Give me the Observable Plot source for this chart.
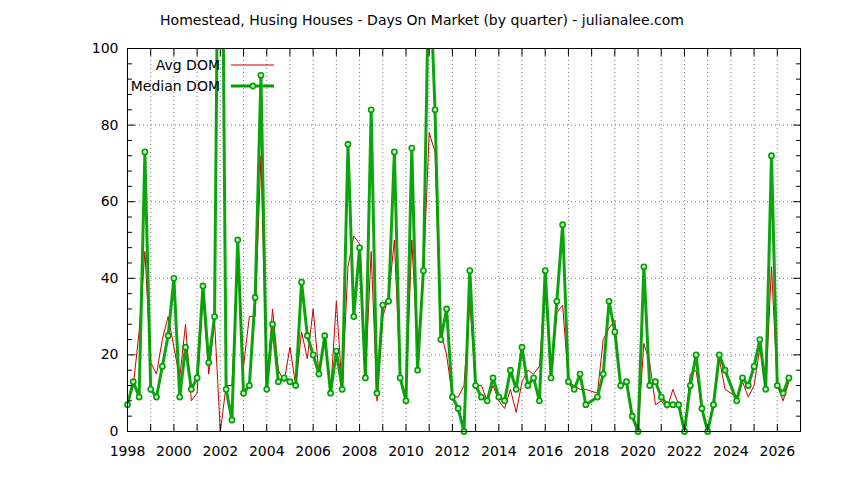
<!DOCTYPE html>
<html><head><meta charset="utf-8">
<script src="https://cdn.jsdelivr.net/npm/d3@7"></script>
<script src="https://cdn.jsdelivr.net/npm/@observablehq/plot@0.6"></script>
<style>
body{margin:0;background:#fff;}
#wrap{position:relative;width:844px;height:480px;font-family:"DejaVu Sans",sans-serif;background:#fff;}
#title{height:38px;line-height:38px;padding-top:1px;box-sizing:border-box;text-align:center;font-size:14px;color:#000;white-space:nowrap;}
#legend{position:absolute;left:0;top:0;pointer-events:none;}
</style></head><body>
<div id="wrap"><div id="title">Homestead, Husing Houses - Days On Market (by quarter) - julianalee.com</div><div id="chart"></div><svg id="legend" width="844" height="480"></svg></div>
<script>
// Quarter start (decimal year); 2018 Q1 and 2024 Q1 absent in the source
const quarters = [
1998.00,1998.25,1998.50,1998.75,1999.00,1999.25,1999.50,1999.75,
2000.00,2000.25,2000.50,2000.75,2001.00,2001.25,2001.50,2001.75,
2002.00,2002.25,2002.50,2002.75,2003.00,2003.25,2003.50,2003.75,
2004.00,2004.25,2004.50,2004.75,2005.00,2005.25,2005.50,2005.75,
2006.00,2006.25,2006.50,2006.75,2007.00,2007.25,2007.50,2007.75,
2008.00,2008.25,2008.50,2008.75,2009.00,2009.25,2009.50,2009.75,
2010.00,2010.25,2010.50,2010.75,2011.00,2011.25,2011.50,2011.75,
2012.00,2012.25,2012.50,2012.75,2013.00,2013.25,2013.50,2013.75,
2014.00,2014.25,2014.50,2014.75,2015.00,2015.25,2015.50,2015.75,
2016.00,2016.25,2016.50,2016.75,2017.00,2017.25,2017.50,2017.75,
2018.25,2018.50,2018.75,2019.00,2019.25,2019.50,2019.75,
2020.00,2020.25,2020.50,2020.75,2021.00,2021.25,2021.50,2021.75,
2022.00,2022.25,2022.50,2022.75,2023.00,2023.25,2023.50,2023.75,
2024.25,2024.50,2024.75,2025.00,2025.25,2025.50,2025.75,
2026.00,2026.25,2026.50
];
const avgDom = [
7,12,26,47,18,15,24,30,
22,14,28,8,10,36,15,29,
0,12,12,45,17,30,30,72,
11,32,16,13,22,12,26,19,
32,15,24,10,34,11,43,51,
49,14,47,8,30,35,50,14,
9,50,21,41,78,73,26,20,
9,9,12,34,12,12,8,12,
8,6,11,5,13,16,15,17,
38,14,31,33,13,12,11,11,
10,24,27,29,11,13,4,
0,23,18,7,8,6,11,7,
0,15,16,6,0,7,19,11,
9,13,9,12,22,11,43,
12,8,13
];
const medianDom = [
7,13,9,73,11,9,17,25,
40,9,22,11,14,38,18,30,
200,11,3,50,10,12,35,93,
11,28,13,14,13,12,39,25,
20,15,25,10,21,11,75,30,
48,14,84,10,33,34,73,14,
8,74,16,42,125,84,24,32,
9,6,0,42,12,9,8,14,
9,8,16,11,22,12,14,8,
42,14,34,54,13,11,15,7,
9,15,34,26,12,13,4,
0,43,12,13,9,7,7,7,
0,12,20,6,0,7,20,16,
8,14,12,17,24,11,72,
12,10,14
];
const seriesNames = ["Avg DOM", "Median DOM"];
const xLabelYears = d3.range(1998, 2027, 2);
const xTickYears = d3.range(1998, 2028);
const xGridYears = d3.range(1999, 2027);
const yLabels = [0, 20, 40, 60, 80, 100];
const yGrid = [20, 40, 60, 80];
const yMinor = d3.range(0, 101, 4).filter(v => v % 20 !== 0);

const RED = "#cc0000", GREEN = "#00a000";
const idx = d3.range(quarters.length);
const tickShape = {draw(ctx, l) { ctx.moveTo(0, 0); ctx.lineTo(0, -l); }};
const tk = (data, ch, anchor, rotate, len) => Plot.vector(data, {[ch]: d => d, frameAnchor: anchor, rotate, length: len, anchor: "start", shape: tickShape, stroke: "black", strokeWidth: 1});

const chart = Plot.plot({
  width: 844, height: 442,
  marginLeft: 127, marginRight: 44, marginTop: 10, marginBottom: 49,
  style: {fontFamily: "DejaVu Sans, sans-serif", fontSize: "14px", color: "#000", background: "#fff", overflow: "visible"},
  x: {domain: [1998, 2027]},
  y: {domain: [0, 100]},
  marks: [
    Plot.gridX(xGridYears, {stroke: "#777", strokeOpacity: 1, strokeDasharray: "1,3"}),
    Plot.gridY(yGrid, {stroke: "#777", strokeOpacity: 1, strokeDasharray: "1,3"}),
    Plot.line(idx, {x: i => quarters[i], y: i => avgDom[i], stroke: RED, strokeWidth: 1, clip: true}),
    Plot.line(idx, {x: i => quarters[i], y: i => medianDom[i], stroke: GREEN, strokeWidth: 3, strokeOpacity: 0.95, clip: true}),
    Plot.dot(idx.filter(i => medianDom[i] <= 100), {x: i => quarters[i], y: i => medianDom[i], r: 2.6, stroke: GREEN, strokeWidth: 1.6, fill: "#c8eec8"}),
    Plot.frame({stroke: "black", strokeWidth: 1}),
    tk(yLabels, "y", "left", 90, 7),
    tk(yLabels, "y", "right", -90, 7),
    tk(yMinor, "y", "left", 90, 4),
    tk(yMinor, "y", "right", -90, 4),
    tk(xTickYears, "x", "bottom", 0, 7),
    tk(xTickYears, "x", "top", 180, 7),
    Plot.axisX(xLabelYears, {tickSize: 0, tickPadding: 15, tickFormat: d => String(d), label: null, fontSize: 14}),
    Plot.axisY(yLabels, {tickSize: 0, tickPadding: 9, label: null, fontSize: 14})
  ]
});
document.getElementById("chart").appendChild(chart);

// legend (inside the plot area, top-left, like the original)
const lg = d3.select("#legend");
const rows = [{name: seriesNames[0], y: 65, color: RED, w: 1, dot: false}, {name: seriesNames[1], y: 86, color: GREEN, w: 3, dot: true}];
rows.forEach(r => {
  lg.append("text").attr("x", 220).attr("y", r.y).attr("dy", "0.36em").attr("text-anchor", "end")
    .attr("font-family", "DejaVu Sans, sans-serif").attr("font-size", 14).attr("fill", "#000").text(r.name);
  lg.append("line").attr("x1", 231).attr("x2", 274).attr("y1", r.y).attr("y2", r.y).attr("stroke", r.color).attr("stroke-width", r.w);
  if (r.dot) lg.append("circle").attr("cx", 253).attr("cy", r.y).attr("r", 2.6).attr("stroke", GREEN).attr("stroke-width", 1.6).attr("fill", "#c8eec8");
});
</script>
</body></html>
